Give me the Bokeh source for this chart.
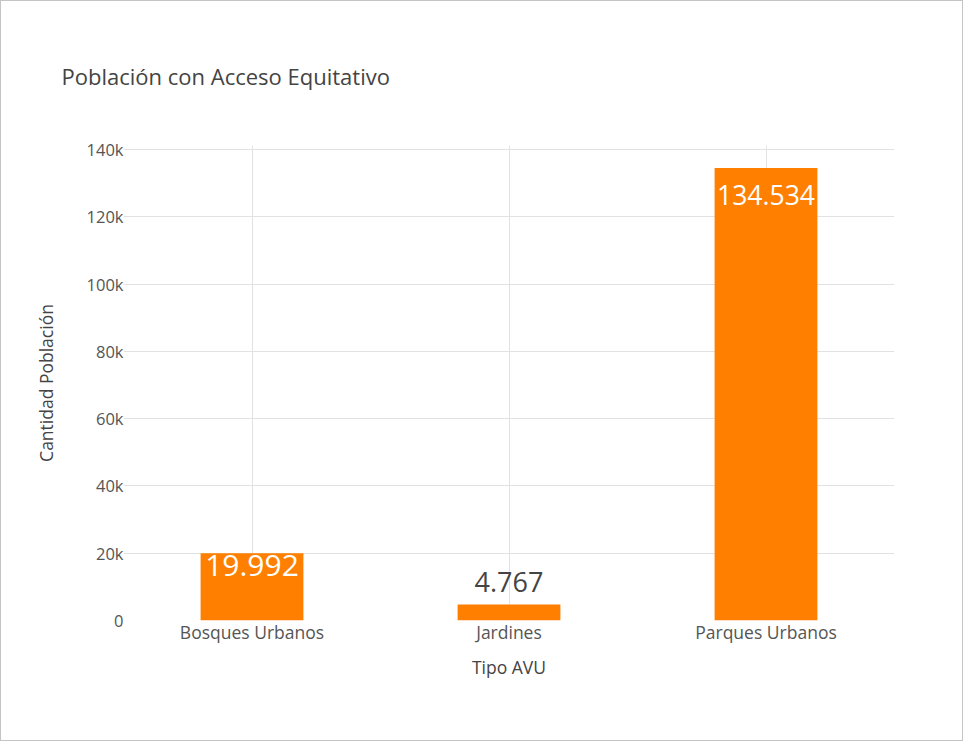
from bokeh.plotting import figure
from bokeh.models import ColumnDataSource, FactorRange, Range1d, FixedTicker
from bokeh.core.properties import value
from bokeh.embed import file_html
from bokeh.resources import INLINE

# ---- data ----
title_text = "Población con Acceso Equitativo"
categories = ["Bosques Urbanos", "Jardines", "Parques Urbanos"]
poblacion = [19992, 4767, 134534]
bar_labels = ["19.992", "4.767", "134.534"]
y_ticks = [0, 20000, 40000, 60000, 80000, 100000, 120000, 140000]
y_tick_labels = ["0", "20k", "40k", "60k", "80k", "100k", "120k", "140k"]

# ---- styling (not data) ----
label_colors = ["white", "#444444", "white"]
label_sizes = ["30px", "27px", "26.5px"]
label_offsets = [12, -22, 27]

FONT = "Open Sans"
ORANGE = "#ff8000"

p = figure(
    width=963, height=741,
    x_range=FactorRange(*categories, range_padding=0),
    y_range=Range1d(0, 141200),
    output_backend="svg", toolbar_location=None,
    min_border_left=122, min_border_right=70,
    min_border_top=144, min_border_bottom=122,
    title=title_text,
)
p.styles = {"border": "1px solid #c4c4c4"}

src = ColumnDataSource(dict(
    cat=categories, val=poblacion, lab=bar_labels,
    col=label_colors, size=label_sizes, off=label_offsets,
))

p.vbar(x="cat", top="val", width=0.4, source=src,
       fill_color=ORANGE, line_color=None)

p.text(x="cat", y="val", text="lab", source=src,
       text_color="col", text_font_size="size", y_offset="off",
       text_align="center", text_baseline="alphabetic",
       text_font=value(FONT))

# title
p.title.text_font = FONT
p.title.text_font_size = "22px"
p.title.text_font_style = "normal"
p.title.text_color = "#444444"
p.title.align = "left"
p.title.offset = -62
p.title.standoff = 110

# axes
for ax in (p.xaxis[0], p.yaxis[0]):
    ax.axis_line_color = None
    ax.major_tick_line_color = None
    ax.minor_tick_line_color = None
    ax.major_tick_out = 0
    ax.major_tick_in = 0
    ax.minor_tick_out = 0
    ax.minor_tick_in = 0
    ax.major_label_text_font = FONT
    ax.major_label_text_color = "#555555"
    ax.axis_label_text_font = FONT
    ax.axis_label_text_font_size = "17.5px"
    ax.axis_label_text_font_style = "normal"
    ax.axis_label_text_color = "#444444"

p.xaxis.axis_label = "Tipo AVU"
p.xaxis.major_label_text_font_size = "17.5px"
p.xaxis.major_label_standoff = -1
p.xaxis.axis_label_standoff = 8

p.yaxis.axis_label = "Cantidad Población"
p.yaxis.major_label_text_font_size = "16.5px"
p.yaxis.ticker = FixedTicker(ticks=y_ticks)
p.yaxis.major_label_overrides = {t: l for t, l in zip(y_ticks, y_tick_labels)}
p.yaxis.major_label_standoff = 0
p.yaxis.axis_label_standoff = 26

p.xgrid.grid_line_color = "#e2e2e2"
p.ygrid.grid_line_color = "#e2e2e2"
p.ygrid.ticker = FixedTicker(ticks=y_ticks)
p.outline_line_color = None
p.background_fill_color = "white"
p.border_fill_color = "white"

open("out.html", "w").write(file_html(p, INLINE))
